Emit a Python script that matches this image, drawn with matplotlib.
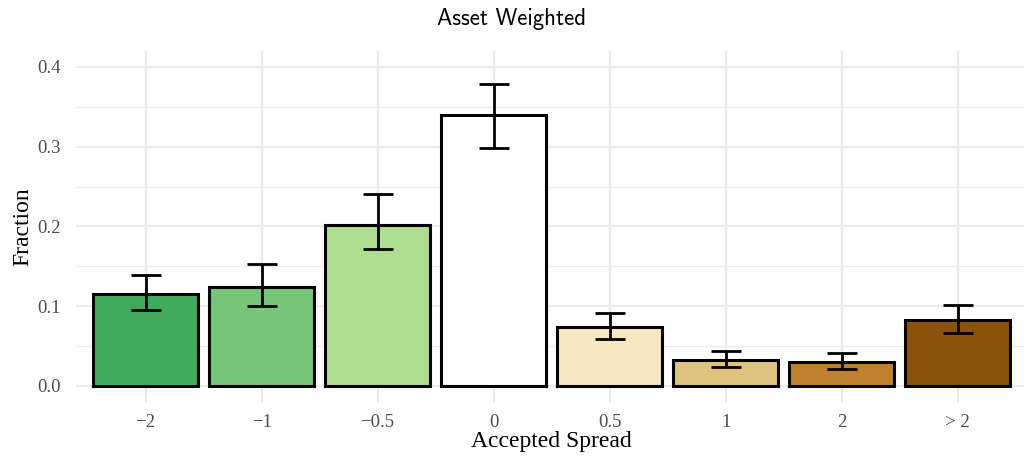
import matplotlib
matplotlib.use("Agg")
import matplotlib.pyplot as plt
import numpy as np

# DATA

categories = ["\u22122", "\u22121", "\u22120.5", "0", "0.5", "1", "2", "> 2"]
fraction = [0.115, 0.124, 0.202, 0.340, 0.074, 0.032, 0.030, 0.082]
err_low = [0.095, 0.100, 0.171, 0.298, 0.059, 0.023, 0.021, 0.066]
err_high = [0.139, 0.153, 0.241, 0.378, 0.091, 0.043, 0.041, 0.101]
colors = ["#41ab5d", "#78c679", "#addd8e", "#ffffff",
          "#f6e8c3", "#dfc27d", "#bf812d", "#8c510a"]

# PLOT

fig = plt.figure(figsize=(10.24, 4.58), dpi=100)
ax = fig.add_axes([0.0742, 0.1229, 0.929, 0.7657])

x = np.arange(len(categories))
frac = np.array(fraction)
yerr = [frac - np.array(err_low), np.array(err_high) - frac]

ax.bar(x, frac, width=0.91, color=colors, edgecolor="black", linewidth=2.2, zorder=3)
ax.errorbar(x, frac, yerr=yerr, fmt="none", ecolor="black", elinewidth=2,
            capsize=10.5, capthick=2, zorder=4)

ax.set_xlim(-0.6, 7.6)
ax.set_ylim(-0.02, 0.42)
ax.set_xticks(x)
ax.set_xticklabels(categories)
ax.set_yticks([0.0, 0.1, 0.2, 0.3, 0.4])
ax.set_yticklabels(["0.0", "0.1", "0.2", "0.3", "0.4"])
ax.set_yticks(np.arange(0.05, 0.4, 0.1), minor=True)

# minimal theme: light grid, no frame, no ticks
for s in ax.spines.values():
    s.set_visible(False)
ax.grid(which="major", color="#ebebeb", linewidth=1.6, zorder=0)
ax.grid(which="minor", axis="y", color="#ebebeb", linewidth=0.9, zorder=0)
ax.tick_params(which="both", length=0)
ax.tick_params(axis="x", pad=9)
ax.tick_params(axis="y", pad=11)
for lab in ax.get_xticklabels() + ax.get_yticklabels():
    lab.set_fontfamily("Liberation Serif")
    lab.set_fontsize(13.5)
    lab.set_color("#4d4d4d")

ax.set_xlabel("Accepted Spread", fontfamily="Liberation Serif", fontsize=17, labelpad=0)
ax.set_ylabel("Fraction", fontfamily="Liberation Serif", fontsize=17, labelpad=3)
fig.text(0.5, 0.958, "Asset Weighted", ha="center", va="center",
         fontfamily="cmss10", fontsize=16.5)

fig.savefig("out.png", dpi=100)
